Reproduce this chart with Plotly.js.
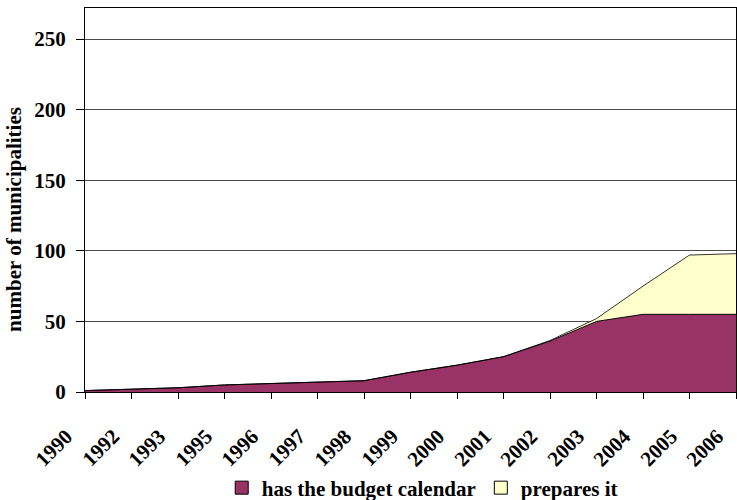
<!DOCTYPE html>
<html>
<head>
<meta charset="utf-8">
<script src="https://cdn.plot.ly/plotly-3.0.1.min.js"></script>
<style>html,body{margin:0;padding:0;background:#fff;}#chart{width:737px;height:500px;}</style>
</head>
<body>
<div id="chart"></div>
<script>
var years = ["1990","1992","1993","1995","1996","1997","1998","1999","2000","2001","2002","2003","2004","2005","2006"];
var hasCalendar = [1, 2, 3, 5, 6, 7, 8, 14, 19, 25, 36, 50, 55, 55, 55];
var preparesIt = [0, 0, 0, 0, 0, 0, 0, 0, 0, 0, 0.5, 2, 20, 42, 43];
var yTicks = [0, 50, 100, 150, 200, 250];
var seriesNames = ["has the budget calendar", "prepares it"];
var seriesColors = ["#993366", "#FFFFCC"];
var yTitle = "number of municipalities";

var fontFam = "Liberation Serif, Times New Roman, serif";

var traces = [
  {
    x: years, y: hasCalendar, name: seriesNames[0], showlegend: false,
    type: "scatter", mode: "lines", stackgroup: "one",
    line: {color: "#000000", width: 1},
    fillcolor: seriesColors[0]
  },
  {
    x: years, y: preparesIt, name: seriesNames[1], showlegend: false,
    type: "scatter", mode: "lines", stackgroup: "one",
    line: {color: "#000000", width: 0.8},
    fillcolor: seriesColors[1]
  }
];
seriesNames.forEach(function (n, i) {
  traces.push({
    x: [null], y: [null], name: n, type: "scatter", mode: "markers",
    marker: {symbol: "square", size: 13, color: seriesColors[i], line: {color: "#000", width: 1}},
    showlegend: true, hoverinfo: "skip"
  });
});

// rotated category labels, placed below their ticks (x = category index)
var annotations = years.map(function (yr, i) {
  return {
    x: i, y: 0, xref: "x", yref: "paper", text: yr, showarrow: false,
    textangle: -45, xanchor: "center", yanchor: "middle",
    xshift: -31, yshift: -56,
    font: {family: fontFam, size: 21, weight: "bold", color: "#000"}
  };
});
annotations.push({
  x: -0.108, y: 0.45, xref: "paper", yref: "paper", text: yTitle, showarrow: false,
  textangle: -90, xanchor: "center", yanchor: "middle",
  font: {family: fontFam, size: 21, weight: "bold", color: "#000"}
});

var layout = {
  width: 737, height: 500,
  margin: {l: 85, r: 1, t: 8, b: 108, autoexpand: false},
  paper_bgcolor: "#ffffff", plot_bgcolor: "#ffffff",
  font: {family: fontFam, color: "#000000", size: 18, weight: "bold"},
  showlegend: true,
  legend: {
    orientation: "h", x: 0.518, xanchor: "center", y: -0.25, yanchor: "middle",
    font: {family: fontFam, size: 21, weight: "bold", color: "#000"},
    traceorder: "normal", itemwidth: 30
  },
  annotations: annotations,
  xaxis: {
    type: "category", range: [0, 14], automargin: false,
    showticklabels: false,
    ticks: "outside", ticklen: 6, tickcolor: "#000",
    showline: true, linecolor: "#000", linewidth: 1, mirror: true,
    showgrid: false, zeroline: false
  },
  yaxis: {
    range: [0, 272], tickvals: yTicks, ticktext: yTicks.map(String), automargin: false,
    ticks: "outside", ticklen: 8, tickcolor: "#000",
    showline: true, linecolor: "#000", linewidth: 1, mirror: true,
    showgrid: true, gridcolor: "#000", gridwidth: 0.7, zeroline: false,
    ticklabelstandoff: 6,
    tickfont: {family: fontFam, size: 21, weight: "bold", color: "#000"}
  }
};

Plotly.newPlot("chart", traces, layout, {displayModeBar: false, staticPlot: true});
</script>
</body>
</html>
